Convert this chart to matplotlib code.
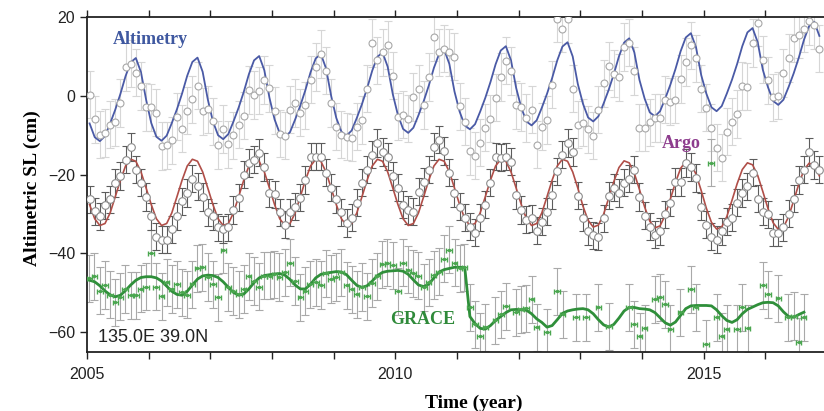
import numpy as np
import matplotlib
matplotlib.use('Agg')
import matplotlib.pyplot as plt
from matplotlib.ticker import MultipleLocator

# monthly values, one row per year (2005 .. 2016), mid-month samples
start_year = 2005

alt_obs = [
    [0.3, -6.0, -9.9, -9.4, -7.3, -6.7, -1.8, 7.3, 8.2, 5.9, 2.5, -2.8],
    [-2.9, -4.3, -12.7, -12.6, -11.3, -5.3, -8.3, -3.8, -0.9, 2.6, -3.9, -3.4],
    [-6.5, -12.5, -8.4, -12.3, -10.0, -7.3, -5.0, 1.5, 0.2, 1.3, 4.0, 1.9],
    [-3.8, -9.6, -10.1, -3.5, -1.8, -4.3, -2.4, 4.1, 7.3, 10.6, 6.4, -1.8],
    [-7.8, -9.9, -10.4, -10.6, -7.8, -6.1, 1.8, 13.4, 9.0, 11.0, 12.9, 5.1],
    [-5.3, -4.8, -5.8, -0.3, 1.8, -2.3, 4.8, 14.9, 11.0, 12.0, 11.0, 9.9],
    [-2.7, -6.6, -14.1, -15.2, -11.9, -8.1, -5.8, -0.5, 4.8, 8.9, 6.3, -2.3],
    [-2.8, -5.6, -3.5, -12.4, -7.8, -6.1, 2.8, 19.6, 17.0, 19.4, 1.8, -7.3],
    [-6.8, -8.5, -10.1, -3.5, 3.2, 7.6, 5.6, 4.7, 12.4, 13.5, 6.3, -8.1],
    [-8.1, -6.7, -5.6, -5.6, -1.0, -1.5, -1.0, 4.3, 8.6, 12.8, 9.5, 1.8],
    [-3.0, -8.1, -13.2, -15.7, -9.1, -6.6, -4.6, 2.5, 2.3, 13.4, 18.6, 9.2],
    [3.9, -0.4, 0.0, 5.8, 9.6, 14.7, 15.5, 17.0, 19.0, 18.0, 12.0],
]

alt_fit = [
    [-7.0, -10.5, -11.5, -10.2, -7.0, -3.5, 0.5, 5.0, 8.5, 9.6, 6.0, -1.0],
    [-6.9, -10.4, -11.4, -10.1, -6.9, -3.4, 0.6, 5.1, 8.6, 9.7, 6.1, -0.9],
    [-6.5, -10.0, -11.0, -9.7, -6.5, -3.0, 1.0, 5.5, 9.0, 10.1, 6.5, -0.5],
    [-6.0, -9.5, -10.5, -9.2, -6.0, -2.5, 1.5, 6.0, 9.5, 10.6, 7.0, 0.0],
    [-5.6, -9.1, -10.1, -8.8, -5.6, -2.1, 1.9, 6.4, 9.9, 11.0, 7.4, 0.4],
    [-4.9, -8.4, -9.4, -8.1, -4.9, -1.4, 2.6, 7.1, 10.6, 11.7, 8.1, 1.1],
    [-4.0, -7.5, -8.5, -7.2, -4.0, -0.5, 3.5, 8.0, 11.5, 12.6, 9.0, 2.0],
    [-3.0, -6.5, -7.5, -6.2, -3.0, 0.5, 4.5, 9.0, 12.5, 13.6, 10.0, 3.0],
    [-2.0, -5.5, -6.5, -5.2, -2.0, 1.5, 5.5, 10.0, 13.5, 14.6, 11.0, 4.0],
    [-0.7, -4.2, -5.2, -3.9, -0.7, 2.8, 6.8, 11.3, 14.8, 15.9, 12.3, 5.3],
    [0.6, -2.9, -3.9, -2.6, 0.6, 4.1, 8.1, 12.6, 16.1, 17.2, 13.6, 6.6],
    [2.2, -1.3, -2.3, -1.0, 2.2, 5.7, 9.7, 14.2, 17.7, 18.8, 15.2],
]

argo_obs = [
    [-26.3, -29.3, -30.6, -27.8, -26.3, -22.1, -20.3, -16.2, -13.0, -18.7, -22.0, -25.6],
    [-30.6, -35.7, -36.5, -36.5, -33.9, -30.6, -26.8, -24.6, -21.0, -23.0, -25.6, -29.6],
    [-30.6, -33.4, -33.9, -33.4, -28.9, -25.8, -20.0, -17.0, -16.2, -14.4, -18.0, -24.6],
    [-25.0, -29.6, -32.7, -29.6, -28.1, -25.8, -21.3, -15.4, -15.4, -15.4, -19.5, -23.3],
    [-26.3, -29.6, -32.2, -30.9, -27.1, -22.0, -18.7, -14.9, -11.9, -14.2, -15.4, -20.3],
    [-23.3, -27.6, -28.9, -29.4, -24.3, -21.8, -18.7, -12.9, -11.1, -14.0, -19.5, -24.6],
    [-28.1, -30.9, -33.2, -34.7, -30.9, -27.6, -22.0, -15.4, -15.7, -15.4, -16.7, -25.1],
    [-28.9, -31.4, -31.1, -34.2, -31.9, -29.4, -25.1, -19.2, -14.9, -11.9, -14.2, -25.3],
    [-30.9, -34.4, -35.4, -35.7, -31.1, -25.3, -23.3, -24.6, -22.0, -21.0, -18.7, -25.6],
    [-30.4, -33.2, -35.2, -34.4, -30.1, -27.1, -21.8, -21.8, -17.0, -18.0, -20.8, -28.1],
    [-32.7, -35.7, -36.5, -34.4, -31.9, -30.9, -27.1, -24.6, -23.0, -19.5, -26.1, -29.4],
    [-30.1, -34.7, -34.7, -33.4, -29.9, -26.1, -21.3, -18.7, -14.2, -17.5, -18.7],
]

argo_fit = [
    [-27.6, -31.2, -32.9, -32.4, -29.7, -25.6, -21.4, -17.8, -16.1, -16.6, -19.3, -23.4],
    [-27.6, -31.2, -32.9, -32.4, -29.7, -25.6, -21.4, -17.8, -16.1, -16.6, -19.3, -23.4],
    [-27.6, -31.2, -32.9, -32.4, -29.7, -25.6, -21.4, -17.8, -16.1, -16.6, -19.3, -23.4],
    [-27.6, -31.2, -32.9, -32.4, -29.7, -25.6, -21.4, -17.8, -16.1, -16.6, -19.3, -23.4],
    [-27.6, -31.2, -32.9, -32.4, -29.7, -25.6, -21.4, -17.8, -16.1, -16.6, -19.3, -23.4],
    [-27.6, -31.2, -32.9, -32.4, -29.7, -25.6, -21.4, -17.8, -16.1, -16.6, -19.3, -23.4],
    [-27.6, -31.2, -32.9, -32.4, -29.7, -25.6, -21.4, -17.8, -16.1, -16.6, -19.3, -23.4],
    [-27.6, -31.2, -32.9, -32.4, -29.7, -25.6, -21.4, -17.8, -16.1, -16.6, -19.3, -23.4],
    [-28.0, -31.6, -33.3, -32.8, -30.1, -26.0, -21.8, -18.2, -16.5, -17.0, -19.7, -23.8],
    [-28.2, -31.8, -33.5, -33.0, -30.3, -26.2, -22.0, -18.4, -16.7, -17.2, -19.9, -24.0],
    [-28.5, -32.1, -33.8, -33.3, -30.6, -26.5, -22.3, -18.7, -17.0, -17.5, -20.2, -24.3],
    [-28.6, -32.2, -33.9, -33.4, -30.7, -26.6, -22.4, -18.8, -17.1, -17.6, -20.3],
]

grace_fit = [
    [-46.8, -47.2, -48.2, -49.5, -50.5, -51.0, -50.6, -49.4, -48.0, -46.8, -46.1, -45.9],
    [-45.9, -46.2, -47.0, -48.3, -49.6, -50.4, -50.6, -49.6, -48.0, -46.5, -45.7, -45.5],
    [-45.6, -46.1, -47.2, -48.6, -49.9, -50.6, -50.3, -49.0, -47.4, -46.2, -45.6, -45.4],
    [-45.2, -45.1, -45.5, -46.6, -48.0, -49.0, -49.0, -47.8, -46.2, -45.3, -45.0, -44.8],
    [-44.6, -44.7, -45.4, -46.8, -48.1, -48.6, -48.2, -47.0, -45.6, -44.8, -44.5, -44.4],
    [-44.3, -44.5, -45.3, -46.7, -48.0, -48.4, -47.8, -46.2, -44.7, -44.1, -43.8, -43.5],
    [-43.5, -43.6, -56.0, -57.8, -59.0, -59.2, -58.3, -57.0, -56.0, -55.0, -54.3, -54.2],
    [-54.3, -54.4, -55.3, -56.6, -57.5, -58.7, -58.3, -56.8, -55.2, -54.6, -54.3, -54.1],
    [-54.0, -54.3, -55.3, -56.8, -58.1, -58.7, -58.0, -56.4, -54.6, -53.7, -53.7, -54.0],
    [-54.1, -54.3, -55.0, -56.3, -57.6, -58.2, -57.4, -55.7, -54.0, -53.3, -53.2, -53.2],
    [-53.2, -53.3, -54.3, -55.8, -57.0, -57.5, -56.8, -55.3, -54.2, -53.6, -53.0, -52.5],
    [-52.4, -52.5, -53.3, -54.8, -56.0, -56.2, -55.5, -54.9],
]

grace_t = [
    2005.04, 2005.12, 2005.21, 2005.29, 2005.37, 2005.46, 2005.54, 2005.62, 2005.71, 2005.79, 2005.87, 2005.96,
    2006.04, 2006.12, 2006.21, 2006.29, 2006.37, 2006.46, 2006.54, 2006.62, 2006.71, 2006.79, 2006.87, 2006.96,
    2007.04, 2007.12, 2007.21, 2007.29, 2007.37, 2007.46, 2007.54, 2007.62, 2007.71, 2007.79, 2007.87, 2007.96,
    2008.04, 2008.12, 2008.21, 2008.29, 2008.37, 2008.46, 2008.54, 2008.62, 2008.71, 2008.79, 2008.87, 2008.96,
    2009.04, 2009.12, 2009.21, 2009.29, 2009.37, 2009.46, 2009.54, 2009.62, 2009.71, 2009.79, 2009.87, 2009.96,
    2010.04, 2010.12, 2010.21, 2010.29, 2010.37, 2010.46, 2010.54, 2010.62, 2010.71, 2010.79, 2010.87, 2010.96,
    2011.04, 2011.12, 2011.21, 2011.29, 2011.37, 2011.46, 2011.62, 2011.71, 2011.79, 2011.96,
    2012.04, 2012.12, 2012.21, 2012.29, 2012.46, 2012.62, 2012.71, 2012.93,
    2013.09, 2013.29, 2013.46, 2013.79, 2013.87, 2013.96,
    2014.04, 2014.21, 2014.29, 2014.37, 2014.46, 2014.62, 2014.79, 2014.87,
    2015.04, 2015.12, 2015.21, 2015.29, 2015.37, 2015.54, 2015.62, 2015.71, 2015.96,
    2016.04, 2016.21, 2016.37, 2016.46, 2016.54, 2016.62,
]
grace_v = [
    -46.3, -45.8, -49.4, -48.0, -50.5, -52.4, -51.0, -49.0, -50.6, -50.6, -48.9, -48.4,
    -40.0, -48.4, -50.9, -47.3, -49.0, -47.8, -49.9, -50.5, -47.8, -43.8, -43.5, -46.0,
    -47.8, -51.1, -39.0, -48.5, -49.5, -50.4, -49.0, -45.8, -47.0, -48.4, -45.6, -45.6,
    -45.3, -46.0, -44.8, -42.3, -47.0, -51.1, -49.5, -47.8, -47.3, -48.0, -45.0, -46.5,
    -46.0, -44.8, -48.1, -49.1, -50.4, -48.5, -50.9, -47.5, -45.8, -42.8, -42.3, -43.0,
    -49.6, -42.3, -44.1, -45.0, -45.6, -48.6, -47.3, -45.5, -44.6, -41.3, -39.0, -42.3,
    -43.8, -43.5, -53.7, -58.0, -61.0, -58.7, -57.0, -55.4, -53.4, -54.9,
    -54.2, -53.9, -51.6, -58.7, -60.0, -49.6, -55.4, -56.2,
    -56.2, -53.7, -58.5, -53.7, -58.0, -61.0,
    -59.0, -51.6, -51.1, -52.9, -59.2, -54.9, -49.1, -53.7,
    -63.0, -17.0, -56.2, -61.0, -59.2, -59.2, -53.7, -59.0, -48.1,
    -50.4, -51.4, -56.2, -55.9, -62.5, -56.2,
]

alt_err = 6.0
argo_err = 3.5
grace_err = 6.0


def flat(rows):
    return np.array([v for row in rows for v in row])


def months(n):
    return start_year + (np.arange(n) + 0.5) / 12.0


alt_y = flat(alt_obs)
alt_f = flat(alt_fit)
argo_y = flat(argo_obs)
argo_f = flat(argo_fit)
grace_f = flat(grace_fit)
t_alt = months(len(alt_y))
t_argo = months(len(argo_y))
t_gfit = months(len(grace_f))

fig = plt.figure(figsize=(8.24, 4.11), dpi=100)
ax = fig.add_axes([0.1056, 0.1436, 0.8944, 0.815])

# error bars
ax.errorbar(t_alt, alt_y, yerr=alt_err, fmt='none', ecolor='#d6d6d6',
            elinewidth=0.8, capsize=3, capthick=0.8, zorder=1)
ax.errorbar(grace_t, grace_v, yerr=grace_err, fmt='none', ecolor='#a9a9a9',
            elinewidth=0.8, capsize=3, capthick=0.8, zorder=2)
ax.errorbar(t_argo, argo_y, yerr=argo_err, fmt='none', ecolor='#5c5c5c',
            elinewidth=0.8, capsize=3, capthick=0.8, zorder=2)

# fitted curves
ax.plot(t_alt, alt_f, color='#4a5aa6', lw=1.3, zorder=3)
ax.plot(t_argo, argo_f, color='#b04e48', lw=1.2, zorder=3)
ax.plot(t_gfit, grace_f, color='#2f8f3a', lw=2.0, zorder=3)

# observations
ax.plot(t_alt, alt_y, 'o', ms=5, mfc='white', mec='#a8a8a8', mew=0.8, zorder=4)
ax.plot(t_argo, argo_y, 'o', ms=5.5, mfc='white', mec='#8c8c8c', mew=0.8, zorder=4)
ax.errorbar(grace_t, grace_v, xerr=0.045, fmt='.', ms=3, color='#4aa64f',
            ecolor='#4aa64f', elinewidth=1.0, capsize=1.8, capthick=1.0, zorder=4)

ax.set_xlim(2005, 2016.95)
ax.set_ylim(-65, 20)
ax.set_xticks([2005, 2010, 2015])
ax.xaxis.set_minor_locator(MultipleLocator(1))
ax.set_yticks([-60, -40, -20, 0, 20])
ax.tick_params(which='both', direction='out', length=5, width=1.0,
               top=True, labeltop=False, colors='#222222', labelsize=11.5)
ax.tick_params(axis='x', pad=6)
for lab in ax.get_xticklabels() + ax.get_yticklabels():
    lab.set_family('Liberation Sans')
for side in ['left', 'bottom', 'top']:
    ax.spines[side].set_linewidth(1.3)
    ax.spines[side].set_color('#222222')
ax.spines['right'].set_visible(False)

serif = 'Liberation Serif'
ax.set_xlabel('Time (year)', family=serif, weight='bold', fontsize=14, va='center')
ax.xaxis.set_label_coords(0.525, -0.152)
ax.set_ylabel('Altimetric SL (cm)', family=serif, weight='bold', fontsize=14, va='center')
ax.yaxis.set_label_coords(-0.0746, 0.49)

ax.text(2006.02, 14.4, 'Altimetry', family=serif, weight='bold', fontsize=13,
        color='#3f58a0', ha='center', va='center')
ax.text(2014.63, -12.2, 'Argo', family=serif, weight='bold', fontsize=13,
        color='#8e3d8e', ha='center', va='center')
ax.text(2010.44, -56.7, 'GRACE', family=serif, weight='bold', fontsize=13,
        color='#2f8a3a', ha='center', va='center')
ax.text(2005.18, -61.2, '135.0E 39.0N', family='Liberation Sans', fontsize=13,
        color='#222222', ha='left', va='center')

fig.savefig('out.png', dpi=100)
